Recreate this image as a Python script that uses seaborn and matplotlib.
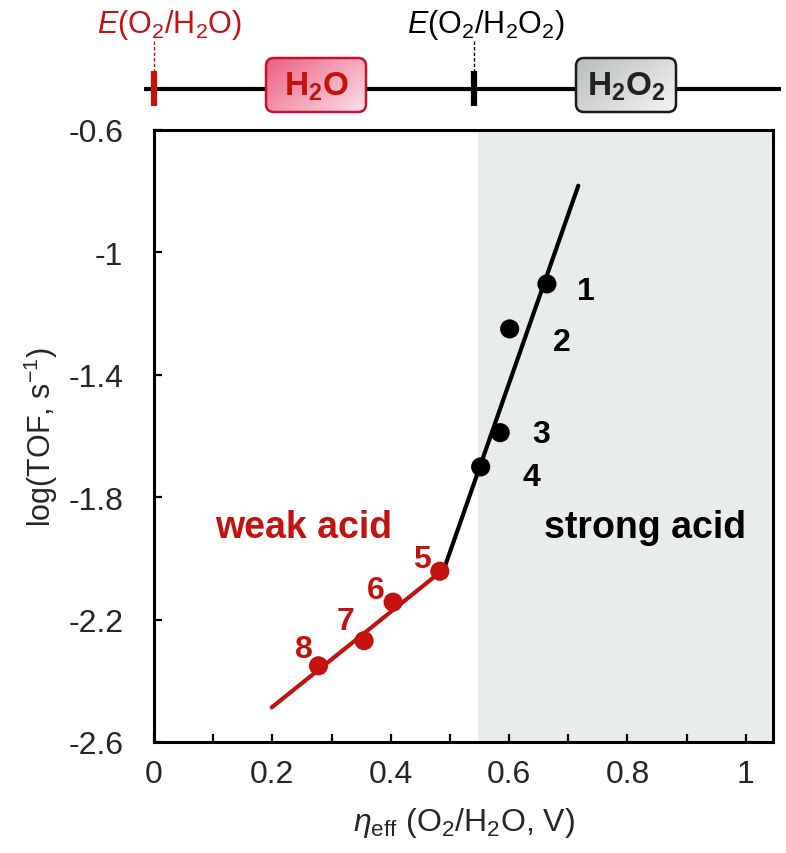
import numpy as np
import pandas as pd
import matplotlib
matplotlib.use("Agg")
import matplotlib.pyplot as plt
import seaborn as sns
from matplotlib.patches import FancyBboxPatch
from matplotlib.colors import LinearSegmentedColormap
from matplotlib.ticker import FixedLocator, FixedFormatter

# ---------------- data ----------------
catalyst = ["1", "2", "3", "4", "5", "6", "7", "8"]
eta_eff = [0.664, 0.601, 0.585, 0.552, 0.483, 0.404, 0.355, 0.278]
log_tof = [-1.103, -1.250, -1.589, -1.701, -2.042, -2.143, -2.269, -2.351]
acid = ["strong", "strong", "strong", "strong", "weak", "weak", "weak", "weak"]

fit_strong_x = [0.490, 0.717]
fit_strong_y = [-2.035, -0.782]
fit_weak_x = [0.199, 0.490]
fit_weak_y = [-2.487, -2.035]

strong_region = [0.548, 1.046]
x_ticks = [0, 0.2, 0.4, 0.6, 0.8, 1.0]
x_ticklabels = ["0", "0.2", "0.4", "0.6", "0.8", "1"]
x_minor = [0.1, 0.3, 0.5, 0.7, 0.9]
y_ticks = [-2.6, -2.2, -1.8, -1.4, -1.0, -0.6]
y_ticklabels = ["-2.6", "-2.2", "-1.8", "-1.4", "-1", "-0.6"]

E_O2_H2O = 0.0
E_O2_H2O2 = 0.54

# ---------------- style ----------------
RED = "#c4120f"
sns.set_style("ticks")
plt.rcParams["font.family"] = ["Liberation Sans", "DejaVu Sans"]
plt.rcParams["mathtext.fontset"] = "custom"
plt.rcParams["mathtext.rm"] = "Liberation Sans"
plt.rcParams["mathtext.it"] = "Liberation Sans:italic"
plt.rcParams["mathtext.bf"] = "Liberation Sans:bold"
plt.rcParams["axes.unicode_minus"] = False

df = pd.DataFrame({"catalyst": catalyst, "eta": eta_eff, "logtof": log_tof, "acid": acid})
fits = pd.DataFrame({
    "x": fit_strong_x + fit_weak_x,
    "y": fit_strong_y + fit_weak_y,
    "acid": ["strong"] * 2 + ["weak"] * 2,
})
palette = {"strong": "black", "weak": RED}

fig = plt.figure(figsize=(7.86, 8.54), dpi=100)
W, H = 786, 854
ax = fig.add_axes([154 / W, (H - 743) / H, (773 - 154) / W, (743 - 131) / H])

XMIN, XMAX = 0, 1.046
YMIN, YMAX = -2.6, -0.6
ax.axvspan(strong_region[0], strong_region[1], color="#e9ecec", lw=0, zorder=0)

sns.lineplot(data=fits, x="x", y="y", hue="acid", palette=palette, lw=3,
             legend=False, ax=ax, zorder=2, estimator=None, sort=False,
             solid_capstyle="round")
sns.scatterplot(data=df, x="eta", y="logtof", hue="acid", palette=palette,
                s=190, linewidth=0, legend=False, ax=ax, zorder=3)

offsets = {"1": (39, -7), "2": (52, -13), "3": (41, -1), "4": (51, -10),
           "5": (-18, 12), "6": (-17, 12), "7": (-19, 20), "8": (-15, 17)}
for c, x, y, a in zip(catalyst, eta_eff, log_tof, acid):
    dx, dy = offsets[c]
    ax.annotate(c, (x, y), xytext=(dx * 0.72, dy * 0.72), textcoords="offset points",
                ha="center", va="center", fontsize=23, fontweight="bold",
                color=palette[a], zorder=4)

ax.text(0.253, -1.93, "weak acid", color=RED, fontsize=27, fontweight="bold",
        ha="center", va="baseline")
ax.text(0.829, -1.93, "strong acid", color="black", fontsize=27, fontweight="bold",
        ha="center", va="baseline")

ax.set_xlim(XMIN, XMAX)
ax.set_ylim(YMIN, YMAX)
ax.xaxis.set_major_locator(FixedLocator(x_ticks))
ax.xaxis.set_major_formatter(FixedFormatter(x_ticklabels))
ax.xaxis.set_minor_locator(FixedLocator(x_minor))
ax.yaxis.set_major_locator(FixedLocator(y_ticks))
ax.yaxis.set_major_formatter(FixedFormatter(y_ticklabels))
ax.tick_params(axis="both", which="both", direction="in", length=6, width=1.6,
               color="black", labelsize=23)
ax.tick_params(axis="x", which="major", pad=12)
ax.tick_params(axis="y", which="major", pad=22)
for s in ax.spines.values():
    s.set_linewidth(2.2)
    s.set_color("black")
    s.set_visible(True)

ax.set_xlabel(r"$\eta_{\mathrm{eff}}$ (O$_2$/H$_2$O, V)", fontsize=23, labelpad=12)
ax.set_ylabel(r"log(TOF, s$^{-1}$)", fontsize=22, labelpad=6)

# ---------------- top potential scale ----------------
TOPH = 125
tax = fig.add_axes([154 / W, (H - TOPH) / H, (773 - 154) / W, TOPH / H])
tax.set_xlim(XMIN, XMAX)
tax.set_ylim(TOPH, 0)
tax.axis("off")
aspect = (773 - 154) / (XMAX - XMIN)  # px per x unit

def px(p):
    return (p - 154) / aspect

tax.plot([px(144), px(781)], [90, 90], color="black", lw=3, clip_on=False,
         solid_capstyle="butt", zorder=1)
for xv, col in [(E_O2_H2O, RED), (E_O2_H2O2, "black")]:
    tax.plot([xv, xv], [72, 107], color=col, lw=4.5, clip_on=False,
             solid_capstyle="butt", zorder=2)
    tax.plot([xv, xv], [42, 72], color=col, lw=1.0, ls=(0, (2.5, 1.5)),
             clip_on=False, zorder=2)

tax.text(px(169), 33, r"$E$(O$_2$/H$_2$O)", color=RED, fontsize=22,
         ha="center", va="baseline", clip_on=False)
tax.text(px(486), 33, r"$E$(O$_2$/H$_2$O$_2$)", color="black", fontsize=22,
         ha="center", va="baseline", clip_on=False)

def gbox(x0p, x1p, y0, y1, c0, c1, ec, label, tc):
    x0, x1 = px(x0p), px(x1p)
    patch = FancyBboxPatch((x0, y0), x1 - x0, y1 - y0,
                           boxstyle="round,pad=0,rounding_size=%f" % (8 / aspect),
                           mutation_aspect=aspect, fc="none", ec=ec, lw=1.8,
                           clip_on=False, zorder=4)
    tax.add_patch(patch)
    gx, gy = np.meshgrid(np.linspace(0, 1, 100), np.linspace(0, 1, 40))
    grad = 0.6 * gx + 0.4 * gy
    cmap = LinearSegmentedColormap.from_list("g", [c0, c1])
    im = tax.imshow(grad, extent=[x0, x1, y1, y0], origin="upper", cmap=cmap,
                    aspect="auto", zorder=3, interpolation="bilinear")
    im.set_clip_path(patch)
    tax.text((x0 + x1) / 2, (y0 + y1) / 2 + 1, label, color=tc, fontsize=24,
             ha="center", va="center", zorder=5)

gbox(266, 366, 59, 113, "#ec5f82", "#fde0e8", "#c4122f",
     r"$\mathbf{H_2O}$", RED)
gbox(576, 676, 59, 113, "#b9bdbd", "#f4f4f4", "#1a1a1a",
     r"$\mathbf{H_2O_2}$", "#222222")
tax.set_xlim(XMIN, XMAX)
tax.set_ylim(TOPH, 0)

fig.savefig("out.png", dpi=100)
